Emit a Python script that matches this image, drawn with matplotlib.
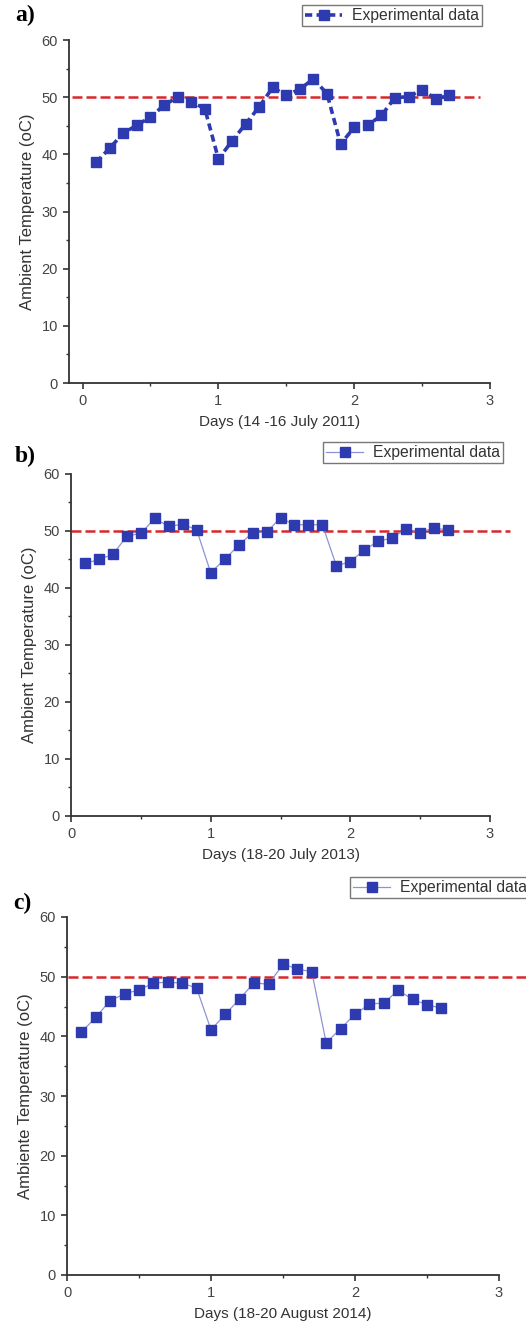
import matplotlib
matplotlib.use("Agg")
import matplotlib.pyplot as plt
from matplotlib.ticker import MultipleLocator

plt.rcParams['font.family'] = ['Liberation Sans', 'DejaVu Sans']

# data
days_a = [0.1, 0.2, 0.3, 0.4, 0.5, 0.6, 0.7, 0.8, 0.9, 1.0, 1.1, 1.2, 1.3, 1.4,
          1.5, 1.6, 1.7, 1.8, 1.9, 2.0, 2.1, 2.2, 2.3, 2.4, 2.5, 2.6, 2.7]
temp_a = [38.6, 41.1, 43.7, 45.1, 46.5, 48.6, 50.0, 49.2, 48.0, 39.2, 42.3, 45.3, 48.3, 51.7,
          50.3, 51.4, 53.2, 50.6, 41.8, 44.7, 45.1, 46.8, 49.9, 50.1, 51.3, 49.7, 50.3]

days_b = [0.1, 0.2, 0.3, 0.4, 0.5, 0.6, 0.7, 0.8, 0.9, 1.0, 1.1, 1.2, 1.3, 1.4,
          1.5, 1.6, 1.7, 1.8, 1.9, 2.0, 2.1, 2.2, 2.3, 2.4, 2.5, 2.6, 2.7]
temp_b = [44.3, 45.0, 45.9, 49.1, 49.6, 52.2, 50.8, 51.2, 50.2, 42.7, 45.0, 47.5, 49.7, 49.8,
          52.3, 51.1, 51.1, 51.1, 43.9, 44.6, 46.7, 48.2, 48.8, 50.4, 49.7, 50.6, 50.1]

days_c = [0.1, 0.2, 0.3, 0.4, 0.5, 0.6, 0.7, 0.8, 0.9, 1.0, 1.1, 1.2, 1.3,
          1.4, 1.5, 1.6, 1.7, 1.8, 1.9, 2.0, 2.1, 2.2, 2.3, 2.4, 2.5, 2.6]
temp_c = [40.7, 43.2, 46.0, 47.1, 47.8, 48.9, 49.1, 48.9, 48.1, 41.1, 43.7, 46.3, 49.0,
          48.7, 52.1, 51.3, 50.8, 38.9, 41.3, 43.7, 45.4, 45.6, 47.7, 46.2, 45.3, 44.7]

threshold = 50
ref_span_a = [-0.08, 2.93]
ref_span_b = [0.0, 3.14]
ref_span_c = [0.01, 3.2]

xlabels = ["Days (14 -16 July 2011)", "Days (18-20 July 2013)", "Days (18-20 August 2014)"]
ylabels = ["Ambient Temperature (oC)", "Ambient Temperature (oC)", "Ambiente Temperature (oC)"]
tags = ["a)", "b)", "c)"]

blue = "#2d3ab0"
red = "#d8282a"
axcol = "#333333"

fig = plt.figure(figsize=(5.26, 13.31), dpi=100)
W, H = 526, 1331

def px_axes(left, top, right, bottom):
    return fig.add_axes([left / W, 1 - bottom / H, (right - left) / W, (bottom - top) / H])

ax_a = px_axes(69, 40, 490, 383)
ax_b = px_axes(71, 474, 490, 816)
ax_c = px_axes(67, 917, 499, 1275)

panels = [
    (ax_a, days_a, temp_a, ref_span_a, (-0.1, 3)),
    (ax_b, days_b, temp_b, ref_span_b, (0, 3)),
    (ax_c, days_c, temp_c, ref_span_c, (0, 3)),
]
legend_pos = [(482, 5), (503, 442), (530, 877)]
tag_pos = [(15, 15), (15, 456), (13, 903)]

for i, (ax, x, y, span, xl) in enumerate(panels):
    ax.plot(span, [threshold, threshold], color=red, lw=1.8, dashes=(4, 1.6),
            clip_on=False, zorder=2)
    if i == 0:
        line, = ax.plot(x, y, color=blue, lw=2.6, ls=(0, (2, 1.2)), marker='s',
                        ms=7.2, mfc=blue, mec=blue, zorder=3, label="Experimental data")
    else:
        line, = ax.plot(x, y, color="#8f93d4", lw=0.9, marker='s',
                        ms=7.5, mfc=blue, mec=blue, zorder=3, label="Experimental data")
    ax.set_xlim(*xl)
    ax.set_ylim(0, 60)
    ax.xaxis.set_major_locator(MultipleLocator(1))
    ax.xaxis.set_minor_locator(MultipleLocator(0.5))
    ax.yaxis.set_major_locator(MultipleLocator(10))
    ax.yaxis.set_minor_locator(MultipleLocator(5))
    for s in ['top', 'right']:
        ax.spines[s].set_visible(False)
    for s in ['left', 'bottom']:
        ax.spines[s].set_color(axcol)
        ax.spines[s].set_linewidth(1.3)
    ax.tick_params(which='major', direction='out', length=4.5, width=1.2,
                   color=axcol, labelcolor="#444444", labelsize=10.5)
    ax.tick_params(which='minor', direction='out', length=2.5, width=1.0, color=axcol)
    ax.set_xlabel(xlabels[i], fontsize=11, color="#333333", labelpad=5)
    ax.set_ylabel(ylabels[i], fontsize=12, color="#333333", labelpad=5)
    lx, ly = legend_pos[i]
    leg = ax.legend(handles=[line], loc='upper right',
                    bbox_to_anchor=(lx / W, 1 - ly / H), bbox_transform=fig.transFigure,
                    fontsize=11.3, frameon=True, fancybox=False, handlelength=2.4,
                    borderpad=0.2, handletextpad=0.6, borderaxespad=0)
    leg.get_frame().set_edgecolor("#555555")
    leg.get_frame().set_linewidth(1.0)
    for t in leg.get_texts():
        t.set_color("#333333")
    tx, ty = tag_pos[i]
    fig.text(tx / W, 1 - ty / H, tags[i], fontsize=17, fontweight='bold',
             family=['Liberation Serif', 'DejaVu Serif'], va='center', ha='left')

fig.savefig("out.png", dpi=100)
